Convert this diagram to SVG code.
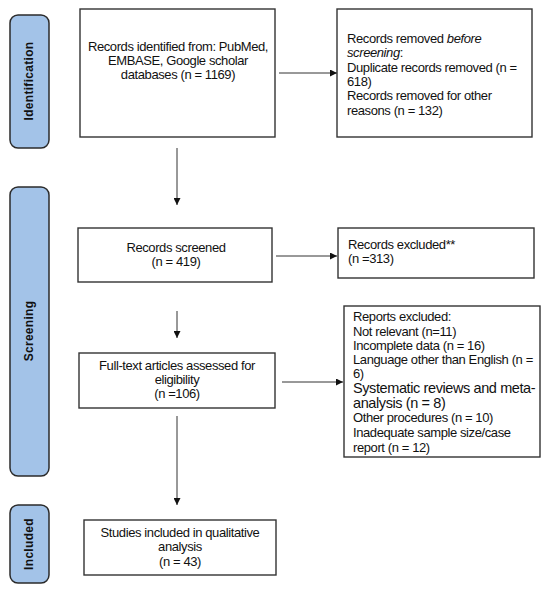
<svg xmlns="http://www.w3.org/2000/svg" width="550" height="592" viewBox="0 0 550 592">
<style>
.side{fill:#a3c3e8;stroke:#2b2b2b;stroke-width:1.5}
.box{fill:#fff;stroke:#333;stroke-width:1.4}
.t{font-family:"Liberation Sans",Arial,sans-serif;font-size:13px;fill:#111;letter-spacing:-0.4px}
.c{text-anchor:middle}
.lab{font-family:"Liberation Sans",Arial,sans-serif;font-size:12px;font-weight:bold;fill:#111;text-anchor:middle;letter-spacing:0.3px}
.ln{stroke:#333;stroke-width:1;fill:none;marker-end:url(#ah)}
</style>
<defs>
<marker id="ah" viewBox="0 0 10 10" refX="10" refY="5" markerWidth="7" markerHeight="7" markerUnits="userSpaceOnUse" orient="auto">
<path d="M0,0 L10,5 L0,10 z" fill="#111"/>
</marker>
</defs>
<rect width="550" height="592" fill="#fff"/>
<g id="side-identification">
<rect class="side" x="10" y="15" width="39" height="133" rx="8"/>
<text class="lab" transform="translate(33,81) rotate(-90)">Identification</text>
</g>
<g id="side-screening">
<rect class="side" x="10" y="187" width="39" height="289" rx="8"/>
<text class="lab" transform="translate(33,331) rotate(-90)">Screening</text>
</g>
<g id="side-included">
<rect class="side" x="10" y="505" width="39" height="78" rx="8"/>
<text class="lab" transform="translate(33,544) rotate(-90)">Included</text>
</g>
<g id="connectors">
<line class="ln" x1="279" y1="73" x2="337" y2="73"/>
<line class="ln" x1="177" y1="148" x2="177" y2="205"/>
<line class="ln" x1="276" y1="256" x2="337" y2="256"/>
<line class="ln" x1="177" y1="311" x2="177" y2="338"/>
<line class="ln" x1="282" y1="382" x2="343" y2="382"/>
<line class="ln" x1="177" y1="416" x2="177" y2="505"/>
</g>
<g id="records-identified">
<rect class="box" x="80" y="9" width="195" height="128"/>
<text class="t c" x="178" y="51">Records identified from: PubMed,</text>
<text class="t c" x="178" y="65">EMBASE, Google scholar</text>
<text class="t c" x="178" y="79">databases (n = 1169)</text>
</g>
<g id="records-removed">
<rect class="box" x="337" y="9" width="195" height="128"/>
<text class="t" x="347" y="43">Records removed <tspan font-style="italic">before</tspan></text>
<text class="t" x="347" y="57"><tspan font-style="italic">screening</tspan>:</text>
<text class="t" x="347" y="72">Duplicate records removed (n =</text>
<text class="t" x="347" y="86">618)</text>
<text class="t" x="347" y="100">Records removed for other</text>
<text class="t" x="347" y="115">reasons (n = 132)</text>
</g>
<g id="records-screened">
<rect class="box" x="78" y="228" width="194" height="54"/>
<text class="t c" x="176" y="252">Records screened</text>
<text class="t c" x="176" y="266">(n = 419)</text>
</g>
<g id="records-excluded">
<rect class="box" x="338" y="228" width="196" height="50"/>
<text class="t" x="348" y="249">Records excluded**</text>
<text class="t" x="348" y="263">(n =313)</text>
</g>
<g id="full-text">
<rect class="box" x="79" y="353" width="196" height="55"/>
<text class="t c" x="177" y="370">Full-text articles assessed for</text>
<text class="t c" x="177" y="384">eligibility</text>
<text class="t c" x="177" y="398">(n =106)</text>
</g>
<g id="reports-excluded">
<rect class="box" x="344" y="306" width="196" height="151"/>
<text class="t" x="353" y="321">Reports excluded:</text>
<text class="t" x="353" y="336">Not relevant (n=11)</text>
<text class="t" x="353" y="350">Incomplete data (n = 16)</text>
<text class="t" x="353" y="364">Language other than English (n =</text>
<text class="t" x="353" y="378">6)</text>
<text class="t" x="353" y="393" style="font-size:14.5px">Systematic reviews and meta-</text>
<text class="t" x="353" y="408" style="font-size:14.5px">analysis (n = 8)</text>
<text class="t" x="353" y="422">Other procedures (n = 10)</text>
<text class="t" x="353" y="437">Inadequate sample size/case</text>
<text class="t" x="353" y="452">report (n = 12)</text>
</g>
<g id="studies-included">
<rect class="box" x="84" y="520" width="192" height="55"/>
<text class="t c" x="180" y="537">Studies included in qualitative</text>
<text class="t c" x="180" y="551">analysis</text>
<text class="t c" x="180" y="566">(n = 43)</text>
</g>
</svg>
